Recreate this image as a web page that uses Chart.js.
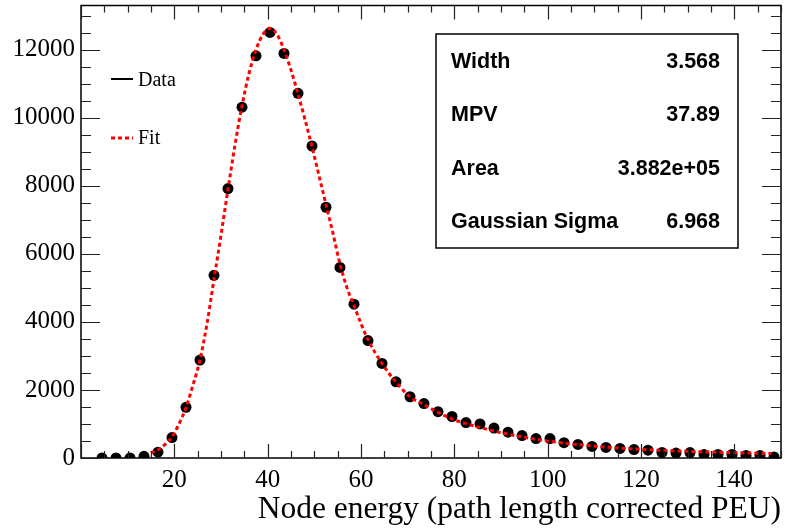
<!DOCTYPE html>
<html>
<head>
<meta charset="utf-8">
<script src="https://cdn.jsdelivr.net/npm/chart.js@4.4.1/dist/chart.umd.min.js"></script>
<style>
  html, body { margin: 0; padding: 0; background: #fff; }
  #wrap { width: 792px; height: 531px; position: relative; }
</style>
</head>
<body>
<div id="wrap"><canvas id="c"></canvas></div>
<script>
// histogram bin centres (bin width 3) and counts
const binCenters = [4.5, 7.5, 10.5, 13.5, 16.5, 19.5, 22.5, 25.5, 28.5, 31.5, 34.5, 37.5, 40.5,
  43.5, 46.5, 49.5, 52.5, 55.5, 58.5, 61.5, 64.5, 67.5, 70.5, 73.5, 76.5, 79.5, 82.5, 85.5,
  88.5, 91.5, 94.5, 97.5, 100.5, 103.5, 106.5, 109.5, 112.5, 115.5, 118.5, 121.5, 124.5,
  127.5, 130.5, 133.5, 136.5, 139.5, 142.5, 145.5, 148.5];
const counts = [0, 0, 0, 50, 170, 600, 1490, 2880, 5370, 7920, 10310, 11820, 12510,
  11890, 10720, 9170, 7370, 5600, 4520, 3450, 2780, 2240, 1800, 1600, 1360, 1220, 1040, 1000,
  880, 760, 660, 570, 570, 450, 400, 340, 310, 280, 250, 230, 165,
  145, 160, 100, 105, 105, 75, 70, 30];

// fit curve
const fitX = [15, 16.5, 18, 19.5, 21, 22.5, 24, 25.5, 27, 28.5, 30, 31.5, 33, 34.5, 36, 37.5,
  39, 40.5, 42, 43.5, 45, 46.5, 48, 49.5, 51, 52.5, 54, 55.5, 57, 58.5, 60, 61.5, 64.5, 67.5,
  70.5, 73.5, 76.5, 79.5, 82.5, 85.5, 88.5, 91.5, 94.5, 97.5, 100.5, 103.5, 106.5, 109.5,
  112.5, 115.5, 118.5, 121.5, 124.5, 127.5, 130.5, 133.5, 136.5, 139.5, 142.5, 145.5, 148];
const fitY = [150, 240, 400, 620, 1000, 1480, 2150, 2880, 3950, 5250, 6550, 7900, 9200, 10350,
  11300, 12000, 12450, 12630, 12450, 12000, 11400, 10700, 9950, 9150, 8300, 7450, 6600, 5700,
  5000, 4480, 3950, 3480, 2780, 2230, 1800, 1570, 1340, 1150, 1010, 900, 790, 700, 620, 550,
  490, 440, 395, 355, 320, 290, 265, 243, 222, 205, 192, 180, 168, 158, 148, 138, 130];

const xTicks = [20, 40, 60, 80, 100, 120, 140];
const yTicks = [0, 2000, 4000, 6000, 8000, 10000, 12000];

const statNames = ['Width', 'MPV', 'Area', 'Gaussian Sigma'];
const statValues = ['3.568', '37.89', '3.882e+05', '6.968'];

const serif = '"Liberation Serif", "Times New Roman", serif';
const sans = '"Liberation Sans", Arial, sans-serif';

const rootFrame = {
  id: 'rootFrame',
  afterDraw(chart) {
    const { ctx, chartArea: a, scales: { x, y } } = chart;
    ctx.save();
    ctx.strokeStyle = '#000';
    ctx.lineWidth = 1.5;
    ctx.strokeRect(a.left, a.top, a.right - a.left, a.bottom - a.top);

    // tick marks, inward on all four sides
    ctx.lineWidth = 1.2;
    ctx.strokeStyle = '#222';
    ctx.beginPath();
    for (let v = 0; v <= 150; v += 5) {
      const px = Math.round(x.getPixelForValue(v)) + 0.5;
      const len = v % 20 === 0 ? 14 : 7;
      ctx.moveTo(px, a.bottom); ctx.lineTo(px, a.bottom - len);
      ctx.moveTo(px, a.top); ctx.lineTo(px, a.top + len);
    }
    for (let v = 0; v <= 13300; v += 500) {
      const py = Math.round(y.getPixelForValue(v)) + 0.5;
      const len = v % 2000 === 0 ? 19 : 10;
      ctx.moveTo(a.left, py); ctx.lineTo(a.left + len, py);
      ctx.moveTo(a.right, py); ctx.lineTo(a.right - len, py);
    }
    ctx.stroke();

    // legend
    ctx.fillStyle = '#000';
    ctx.font = '20px ' + serif;
    ctx.textBaseline = 'alphabetic';
    ctx.textAlign = 'left';
    ctx.lineWidth = 2;
    ctx.strokeStyle = '#000';
    ctx.beginPath(); ctx.moveTo(111, 79); ctx.lineTo(133, 79); ctx.stroke();
    ctx.fillText('Data', 138, 86);
    ctx.strokeStyle = '#ff0000';
    ctx.lineWidth = 3;
    ctx.setLineDash([4, 3]);
    ctx.beginPath(); ctx.moveTo(111, 138); ctx.lineTo(133, 138); ctx.stroke();
    ctx.setLineDash([]);
    ctx.fillText('Fit', 138, 144);

    // stats box
    const bx = 436, by = 34, bw = 302, bh = 214;
    ctx.fillStyle = '#fff';
    ctx.fillRect(bx, by, bw, bh);
    ctx.strokeStyle = '#000';
    ctx.lineWidth = 1.5;
    ctx.strokeRect(bx, by, bw, bh);
    ctx.fillStyle = '#000';
    ctx.font = 'bold 21.5px ' + sans;
    ctx.textBaseline = 'middle';
    statNames.forEach((n, i) => {
      const cy = by + bh / 8 + i * bh / 4 + 1;
      ctx.textAlign = 'left';
      ctx.fillText(n, bx + 15, cy);
      ctx.textAlign = 'right';
      ctx.fillText(statValues[i], bx + bw - 18, cy);
    });
    ctx.restore();
  }
};

new Chart(document.getElementById('c'), {
  type: 'scatter',
  data: {
    datasets: [
      {
        label: 'Fit',
        data: fitX.map((v, i) => ({ x: v, y: fitY[i] })),
        showLine: true,
        borderColor: '#ff0000',
        borderWidth: 3,
        borderDash: [4, 3],
        pointRadius: 0,
        cubicInterpolationMode: 'monotone',
        order: 0,
      },
      {
        label: 'Data',
        data: binCenters.map((v, i) => ({ x: v, y: counts[i] })),
        backgroundColor: '#000',
        borderColor: '#000',
        pointRadius: 5.5,
        pointBorderWidth: 0,
        order: 1,
      },
    ],
  },
  options: {
    responsive: true, maintainAspectRatio: false,
    animation: false,
    devicePixelRatio: 1,
    layout: { padding: { top: 5, right: 11, left: 0, bottom: 0 } },
    plugins: { legend: { display: false }, tooltip: { enabled: false } },
    scales: {
      x: {
        min: 0, max: 150,
        afterFit: s => { s.height = 73; s.paddingLeft = 0; s.paddingRight = 0; },
        afterBuildTicks: s => { s.ticks = xTicks.map(v => ({ value: v })); },
        grid: { display: false, drawTicks: false },
        border: { display: false },
        ticks: { color: '#000', font: { family: serif, size: 25 }, padding: 7, autoSkip: false, maxRotation: 0 },
        title: {
          display: true, align: 'end', color: '#000',
          text: 'Node energy (path length corrected PEU)',
          font: { family: serif, size: 31.5 }, padding: { top: 0, bottom: 2 },
        },
      },
      y: {
        min: 0, max: 13300,
        afterFit: s => { s.width = 81; s.paddingTop = 0; s.paddingBottom = 0; },
        afterBuildTicks: s => { s.ticks = yTicks.map(v => ({ value: v })); },
        grid: { display: false, drawTicks: false },
        border: { display: false },
        ticks: {
          color: '#000', font: { family: serif, size: 25 }, padding: 6, autoSkip: false,
          callback: v => String(v),
        },
      },
    },
  },
  plugins: [rootFrame],
});
</script>
</body>
</html>
